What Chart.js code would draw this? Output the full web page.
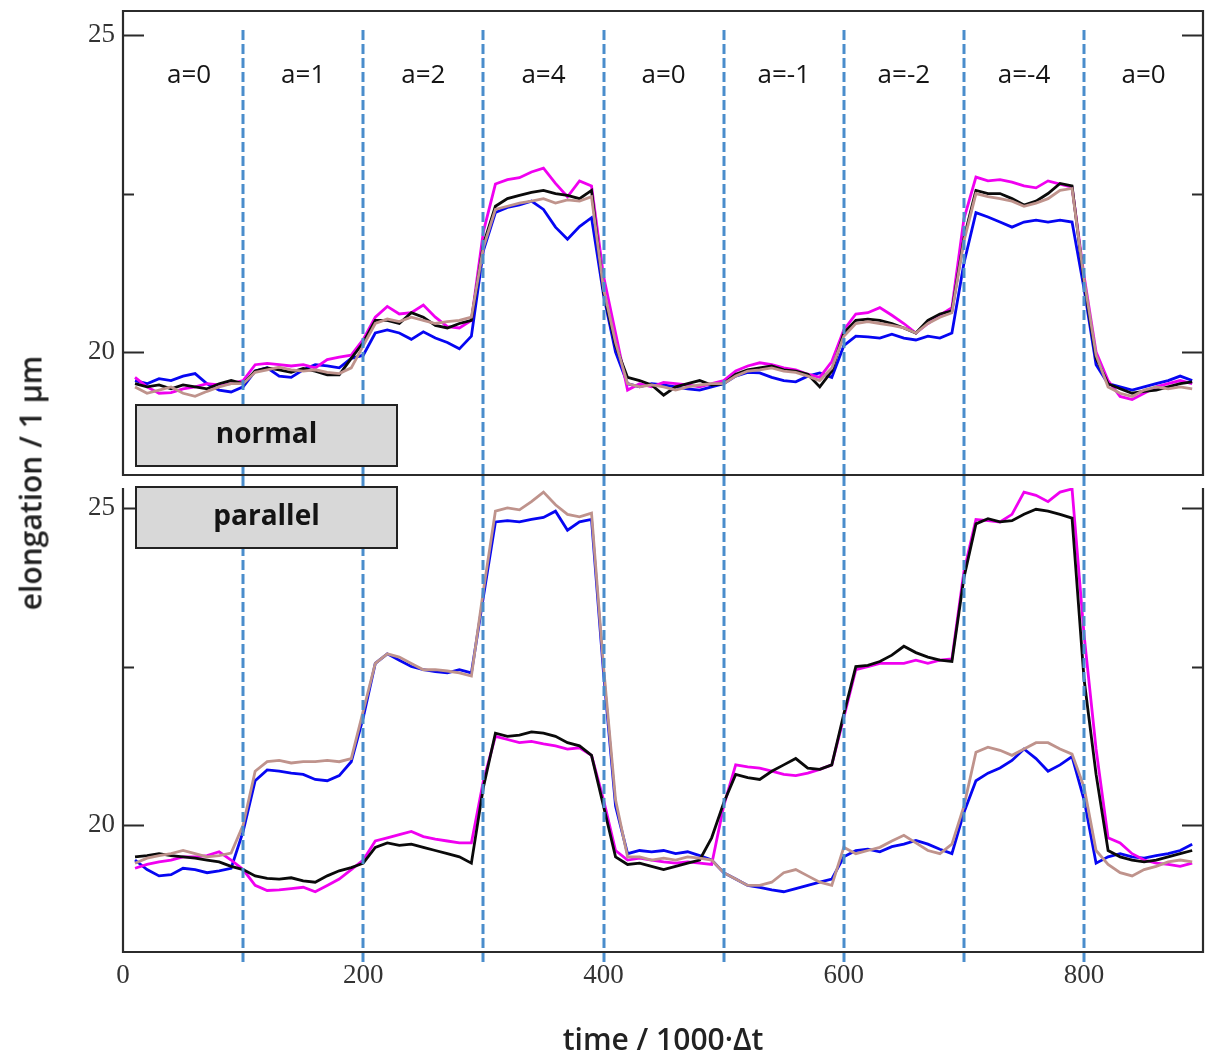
<!DOCTYPE html>
<html>
<head>
<meta charset="utf-8">
<title>elongation vs time</title>
<script src="https://cdn.jsdelivr.net/npm/chart.js@4.4.1/dist/chart.umd.min.js"></script>
<style>
  html, body { margin: 0; padding: 0; background: #fff; }
  #wrap   { position: relative; width: 1212px; height: 1059px; overflow: hidden; }
  canvas  { position: absolute; left: 0; }
  #cTop   { top: 0; }
  #cBot   { top: 476px; }
  #yTitle {
    position: absolute; left: 30px; top: 483px;
    transform: translate(-50%, -50%) rotate(-90deg);
    font: 600 30px 'Open Sans'; color: #222; white-space: nowrap;
  }
</style>
</head>
<body>
<div id="wrap">
  <canvas id="cTop" width="1212" height="476"></canvas>
  <canvas id="cBot" width="1212" height="583"></canvas>
  <div id="yTitle">elongation / 1 µm</div>
</div>

<script>
'use strict';

/* ─────────────────────────────────────────────────────────
   DATA  (time in units of 1000·Δt)
───────────────────────────────────────────────────────── */
const times = [
  10, 20, 30, 40, 50, 60, 70, 80, 90,
  100, 110, 120, 130, 140, 150, 160, 170, 180, 190,
  200, 210, 220, 230, 240, 250, 260, 270, 280, 290,
  300, 310, 320, 330, 340, 350, 360, 370, 380, 390,
  400, 410, 420, 430, 440, 450, 460, 470, 480, 490,
  500, 510, 520, 530, 540, 550, 560, 570, 580, 590,
  600, 610, 620, 630, 640, 650, 660, 670, 680, 690,
  700, 710, 720, 730, 740, 750, 760, 770, 780, 790,
  800, 810, 820, 830, 840, 850, 860, 870, 880, 890
];

const phaseBounds = [100, 200, 300, 400, 500, 600, 700, 800];
const phaseLabels = ['a=0', 'a=1', 'a=2', 'a=4', 'a=0', 'a=-1', 'a=-2', 'a=-4', 'a=0'];

const xTicks      = [0, 200, 400, 600, 800];
const yTicks      = [20, 25];
const yMinorTicks = [22.5];

// panel "normal"
const normalBlue = [
  19.55, 19.5, 19.58, 19.55, 19.62, 19.66, 19.5, 19.4, 19.37,
  19.45, 19.7, 19.75, 19.62, 19.6, 19.72, 19.8, 19.78, 19.75, 19.9,
  19.95, 20.3, 20.35, 20.3, 20.2, 20.32, 20.22, 20.15, 20.05, 20.25,
  21.6, 22.2, 22.28, 22.32, 22.38, 22.25, 21.97, 21.78, 21.98, 22.12,
  20.9, 20.0, 19.5, 19.45, 19.5, 19.48, 19.45, 19.42, 19.4, 19.45,
  19.5, 19.62, 19.68, 19.67, 19.6, 19.55, 19.53, 19.62, 19.67, 19.6,
  20.1, 20.25, 20.24, 20.22, 20.28, 20.22, 20.19, 20.25, 20.22, 20.3,
  21.4, 22.2, 22.13, 22.05, 21.97, 22.05, 22.08, 22.05, 22.08, 22.05,
  21.0, 19.8, 19.5, 19.45, 19.4, 19.45, 19.5, 19.55, 19.62, 19.55
];
const normalMagenta = [
  19.6, 19.45, 19.35, 19.36, 19.42, 19.45, 19.5, 19.48, 19.5,
  19.55, 19.8, 19.82, 19.8, 19.78, 19.8, 19.75, 19.88, 19.92, 19.95,
  20.2, 20.55, 20.72, 20.6, 20.62, 20.74, 20.55, 20.4, 20.38, 20.5,
  21.9, 22.65, 22.72, 22.75, 22.84, 22.9, 22.66, 22.45, 22.7, 22.62,
  21.2, 20.3, 19.4, 19.5, 19.45, 19.52, 19.5, 19.48, 19.45, 19.5,
  19.55, 19.7, 19.78, 19.83, 19.8, 19.75, 19.72, 19.65, 19.6, 19.85,
  20.35, 20.6, 20.62, 20.7, 20.58, 20.45, 20.3, 20.45, 20.58, 20.7,
  22.1, 22.76, 22.7, 22.72, 22.68, 22.62, 22.59, 22.7, 22.65, 22.6,
  21.2, 20.0, 19.55, 19.3, 19.25, 19.35, 19.45, 19.5, 19.55, 19.5
];
const normalBlack = [
  19.5, 19.45, 19.48, 19.42, 19.48, 19.45, 19.42, 19.5, 19.55,
  19.5, 19.7, 19.75, 19.72, 19.68, 19.74, 19.7, 19.64, 19.64, 19.9,
  20.15, 20.5, 20.5, 20.45, 20.62, 20.55, 20.42, 20.38, 20.45, 20.5,
  21.7, 22.3, 22.42, 22.47, 22.52, 22.55, 22.5, 22.47, 22.42, 22.55,
  20.95, 20.1, 19.6, 19.55, 19.48, 19.32, 19.45, 19.5, 19.55, 19.48,
  19.5, 19.65, 19.72, 19.75, 19.78, 19.72, 19.7, 19.65, 19.45, 19.7,
  20.3, 20.5, 20.52, 20.5, 20.45, 20.38, 20.3, 20.5, 20.6, 20.65,
  21.8, 22.55, 22.5, 22.5, 22.42, 22.32, 22.38, 22.5, 22.66, 22.62,
  21.1, 19.9, 19.5, 19.42, 19.35, 19.38, 19.4, 19.45, 19.5, 19.53
];
const normalBrown = [
  19.45, 19.35, 19.4, 19.45, 19.35, 19.3, 19.38, 19.45, 19.5,
  19.5, 19.68, 19.72, 19.76, 19.72, 19.7, 19.72, 19.68, 19.66, 19.75,
  20.1, 20.45, 20.52, 20.48, 20.55, 20.5, 20.45, 20.48, 20.5, 20.55,
  21.65, 22.25, 22.3, 22.35, 22.38, 22.42, 22.35, 22.4, 22.38, 22.45,
  21.0, 20.15, 19.5, 19.45, 19.48, 19.45, 19.4, 19.45, 19.48, 19.5,
  19.5, 19.62, 19.7, 19.72, 19.75, 19.7, 19.68, 19.62, 19.55, 19.75,
  20.25, 20.45, 20.48, 20.45, 20.42, 20.38, 20.3, 20.45, 20.55, 20.62,
  21.75, 22.5, 22.45, 22.42, 22.38, 22.3, 22.35, 22.42, 22.55, 22.58,
  21.15, 19.95, 19.45, 19.35, 19.3, 19.4, 19.45, 19.42, 19.45, 19.42
];

// panel "parallel"
const parallelBlue = [
  19.45, 19.3, 19.2, 19.22, 19.32, 19.3, 19.25, 19.28, 19.32,
  19.9, 20.7, 20.87, 20.85, 20.82, 20.8, 20.72, 20.7, 20.78, 21.0,
  21.7, 22.55, 22.7, 22.6, 22.5, 22.45, 22.42, 22.4, 22.45, 22.4,
  23.6, 24.78, 24.8, 24.78, 24.82, 24.85, 24.95, 24.65, 24.78, 24.82,
  22.4, 20.3, 19.55, 19.6, 19.58, 19.6, 19.55, 19.58, 19.52, 19.45,
  19.25, 19.15, 19.05, 19.02, 18.98, 18.95, 19.0, 19.05, 19.1, 19.15,
  19.5, 19.6, 19.62, 19.58, 19.66, 19.7, 19.76, 19.7, 19.62, 19.55,
  20.2, 20.7, 20.82, 20.9, 21.02, 21.2, 21.05, 20.85, 20.95, 21.08,
  20.4, 19.4, 19.5, 19.55, 19.5, 19.48, 19.52, 19.55, 19.6, 19.7
];
const parallelMagenta = [
  19.32, 19.38, 19.42, 19.45, 19.5, 19.5, 19.52, 19.58, 19.45,
  19.3, 19.05, 18.97, 18.98, 19.0, 19.02, 18.95, 19.05, 19.15, 19.3,
  19.45, 19.75, 19.8, 19.85, 19.9, 19.82, 19.78, 19.75, 19.72, 19.72,
  20.7, 21.4, 21.35, 21.3, 21.32, 21.28, 21.25, 21.2, 21.22, 21.1,
  20.4, 19.6, 19.45, 19.48, 19.45, 19.42, 19.4, 19.42, 19.4, 19.38,
  20.3, 20.95, 20.92, 20.9, 20.85, 20.8, 20.78, 20.82, 20.88, 20.95,
  21.7, 22.45, 22.5, 22.55, 22.55, 22.55, 22.6, 22.55, 22.6, 22.62,
  24.0, 24.82, 24.8, 24.78, 24.9, 25.25, 25.2, 25.1, 25.25, 25.3,
  23.0, 21.2, 19.8, 19.72, 19.55, 19.45, 19.4, 19.38, 19.35, 19.4
];
const parallelBlack = [
  19.5, 19.52, 19.55, 19.52, 19.5, 19.48, 19.45, 19.42, 19.35,
  19.3, 19.2, 19.16, 19.15, 19.17, 19.12, 19.1, 19.2, 19.28, 19.33,
  19.4, 19.65, 19.72, 19.68, 19.7, 19.65, 19.6, 19.55, 19.5, 19.4,
  20.6, 21.45, 21.4, 21.42, 21.47, 21.45, 21.4, 21.3, 21.25, 21.1,
  20.3, 19.5, 19.38, 19.4, 19.35, 19.3, 19.35, 19.4, 19.45, 19.8,
  20.35, 20.8, 20.75, 20.72, 20.85, 20.95, 21.05, 20.9, 20.88, 20.95,
  21.75, 22.5, 22.52, 22.58, 22.68, 22.82, 22.72, 22.65, 22.6, 22.58,
  23.9, 24.75, 24.83, 24.78, 24.8, 24.9, 24.98, 24.95, 24.9, 24.84,
  22.3, 20.8, 19.6, 19.5, 19.45, 19.42, 19.45, 19.5, 19.55, 19.6
];
const parallelBrown = [
  19.4, 19.48, 19.52, 19.55, 19.6, 19.55, 19.5, 19.52, 19.56,
  20.0, 20.85, 21.0, 21.02, 20.98, 21.0, 21.0, 21.02, 21.0, 21.05,
  21.8, 22.55, 22.7, 22.65, 22.55, 22.45, 22.45, 22.43, 22.4, 22.35,
  23.7, 24.95, 25.0, 24.97, 25.1, 25.25, 25.05, 24.9, 24.86, 24.92,
  22.5, 20.4, 19.5, 19.5, 19.45, 19.48, 19.45, 19.5, 19.48, 19.45,
  19.25, 19.15, 19.05, 19.05, 19.1, 19.25, 19.3, 19.2, 19.1, 19.05,
  19.65, 19.55, 19.6, 19.65, 19.75, 19.84, 19.72, 19.6, 19.55, 19.7,
  20.3, 21.15, 21.23, 21.18, 21.1, 21.2, 21.3, 21.3, 21.2, 21.12,
  20.6, 19.6, 19.38, 19.25, 19.2, 19.3, 19.35, 19.42, 19.45, 19.42
];

/* ─────────────────────────────────────────────────────────
   STYLE
───────────────────────────────────────────────────────── */
const COLORS = { blue: '#0606f2', magenta: '#f000f0', black: '#0a0a0a', brown: '#bf938c' };
const X_MAX  = 899;
const TICK_FONT = { family: 'Liberation Serif', size: 27 };

Chart.defaults.font.family = 'Liberation Serif';

/* ─────────────────────────────────────────────────────────
   HELPERS
───────────────────────────────────────────────────────── */
const toPoints = vals => times.map((t, i) => ({ x: t, y: vals[i] }));

// dataset 0 is painted last, so brown ends up on top like in the figure
function panelDatasets(blue, magenta, black, brown) {
  return [
    { label: 'brown',   data: toPoints(brown),   borderColor: COLORS.brown },
    { label: 'black',   data: toPoints(black),   borderColor: COLORS.black },
    { label: 'magenta', data: toPoints(magenta), borderColor: COLORS.magenta },
    { label: 'blue',    data: toPoints(blue),    borderColor: COLORS.blue },
  ];
}

// no automatic label overhang padding, the frame is placed by layout.padding only
const noOverhang = s => { s.paddingTop = 0; s.paddingBottom = 0; s.paddingLeft = 0; s.paddingRight = 0; };

const panelDecor = {
  id: 'panelDecor',
  afterDatasetsDraw(chart, args, o) {
    const { ctx, chartArea: a, scales: { x, y } } = chart;
    ctx.save();

    // phase boundaries
    ctx.strokeStyle = '#4a8dcc';
    ctx.lineWidth = 3;
    ctx.setLineDash([10, 4]);
    phaseBounds.forEach(t => {
      const px = Math.round(x.getPixelForValue(t));
      ctx.beginPath(); ctx.moveTo(px, o.dashTop); ctx.lineTo(px, o.dashBottom); ctx.stroke();
    });
    ctx.setLineDash([]);

    // frame
    ctx.strokeStyle = '#2b2b2b';
    ctx.lineWidth = 2.2;
    ctx.beginPath();
    if (o.closedTop) {
      ctx.rect(a.left, a.top, a.right - a.left, a.bottom - a.top);
    } else {
      ctx.moveTo(a.left, a.top); ctx.lineTo(a.left, a.bottom);
      ctx.lineTo(a.right, a.bottom); ctx.lineTo(a.right, a.top);
    }
    ctx.stroke();

    // inward ticks on both sides
    ctx.lineWidth = 2;
    const tick = (v, len) => {
      const py = Math.round(y.getPixelForValue(v)) + 0.5;
      ctx.beginPath();
      ctx.moveTo(a.left, py);  ctx.lineTo(a.left + len, py);
      ctx.moveTo(a.right, py); ctx.lineTo(a.right - len, py);
      ctx.stroke();
    };
    yTicks.forEach(v => tick(v, 21));
    yMinorTicks.forEach(v => tick(v, 11));

    // phase labels
    if (o.phaseLabelY) {
      const edges = [times[0], ...phaseBounds, X_MAX];
      ctx.fillStyle = '#151515';
      ctx.font = '26px "Open Sans"';
      ctx.textAlign = 'center';
      ctx.textBaseline = 'alphabetic';
      phaseLabels.forEach((txt, i) => {
        const mid = (edges[i] + edges[i + 1]) / 2;
        ctx.fillText(txt, x.getPixelForValue(mid), o.phaseLabelY);
      });
    }

    // panel name box
    const b = o.box;
    ctx.fillStyle = '#d8d8d8';
    ctx.fillRect(b.x, b.y, b.w, b.h);
    ctx.strokeStyle = '#222';
    ctx.lineWidth = 2;
    ctx.strokeRect(b.x, b.y, b.w, b.h);
    ctx.fillStyle = '#141414';
    ctx.font = 'bold 28px "Open Sans"';
    ctx.textAlign = 'center';
    ctx.textBaseline = 'middle';
    ctx.fillText(b.text, b.x + b.w / 2, b.y + b.h / 2);

    ctx.restore();
  }
};

function panelOptions(yMin, yMax, showX, decor, padTop) {
  return {
    responsive: false,
    animation: false,
    layout: { padding: { left: 0, right: 9, top: padTop, bottom: showX ? 0 : 1 } },
    elements: { point: { radius: 0 }, line: { borderWidth: 2.8, tension: 0 } },
    plugins: { legend: { display: false }, tooltip: { enabled: false }, panelDecor: decor },
    scales: {
      x: {
        type: 'linear', min: 0, max: X_MAX, display: showX,
        grid: { display: false, drawTicks: false },
        border: { display: false },
        afterBuildTicks: s => { s.ticks = xTicks.map(v => ({ value: v })); },
        afterFit: s => { s.height = showX ? 107 : 0; noOverhang(s); },
        ticks: { font: TICK_FONT, color: '#333', padding: 8, maxRotation: 0 },
        title: {
          display: showX, text: 'time / 1000·Δt', color: '#222', padding: { top: 0, bottom: 0 },
          font: { family: 'Open Sans', size: 30, weight: '600' }
        }
      },
      y: {
        min: yMin, max: yMax,
        grid: { display: false, drawTicks: false },
        border: { display: false },
        afterBuildTicks: s => { s.ticks = yTicks.map(v => ({ value: v })); },
        afterFit: s => { s.width = 123; noOverhang(s); },
        ticks: { font: TICK_FONT, color: '#333', padding: 8 }
      }
    }
  };
}

/* ─────────────────────────────────────────────────────────
   CHARTS
───────────────────────────────────────────────────────── */
new Chart(document.getElementById('cTop'), {
  type: 'line',
  data: { datasets: panelDatasets(normalBlue, normalMagenta, normalBlack, normalBrown) },
  options: panelOptions(18.06, 25.38, false, {
    dashTop: 30, dashBottom: 476, closedTop: true, phaseLabelY: 83,
    box: { x: 136, y: 405, w: 261, h: 61, text: 'normal' }
  }, 11),
  plugins: [panelDecor]
});

new Chart(document.getElementById('cBot'), {
  type: 'line',
  data: { datasets: panelDatasets(parallelBlue, parallelMagenta, parallelBlack, parallelBrown) },
  options: panelOptions(18.0, 25.315, true, {
    dashTop: 0, dashBottom: 486, closedTop: false, phaseLabelY: 0,
    box: { x: 136, y: 11, w: 261, h: 61, text: 'parallel' }
  }, 12),
  plugins: [panelDecor]
});
</script>
</body>
</html>
